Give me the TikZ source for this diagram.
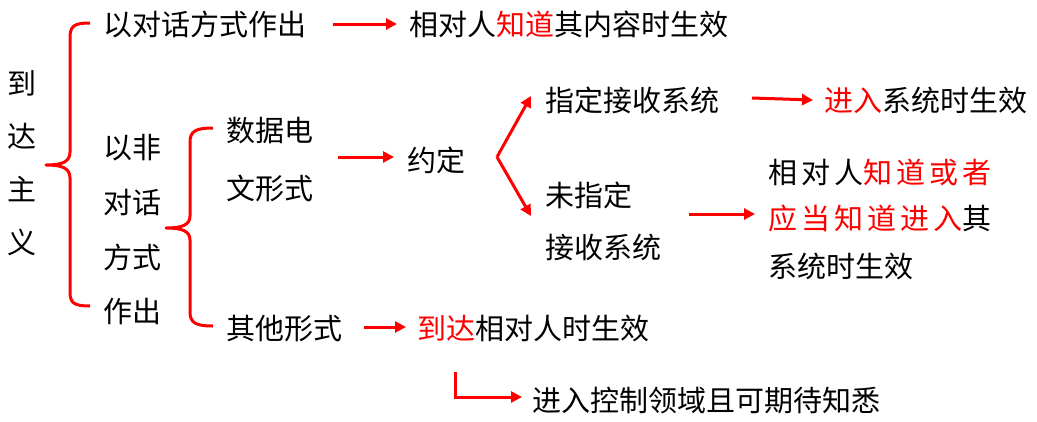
\documentclass[tikz,border=0pt]{standalone}
\usepackage{fontspec}
\setmainfont{Noto Sans CJK SC}
\usetikzlibrary{arrows.meta}
\definecolor{rd}{RGB}{255,0,0}
\begin{document}
\begin{tikzpicture}[x=1pt,y=-1pt,
  txt/.style={anchor=west,inner sep=0pt,font=\fontsize{29}{34}\selectfont,text=black},
  wide/.style={txt,font=\fontsize{29}{34}\selectfont\addfontfeatures{LetterSpace=14}},
  arr/.style={draw=rd,line width=3pt,-{Triangle[length=11pt,width=11pt]}},
  brace/.style={draw=rd,line width=3pt,line join=round}]
\useasboundingbox (0,0) rectangle (1037,421);
% left vertical title
\node[txt,anchor=center] (t1) at (22,83) {到};
\node[txt,anchor=center] (t2) at (22,136) {达};
\node[txt,anchor=center] (t3) at (22,189) {主};
\node[txt,anchor=center] (t4) at (22,242) {义};
% big brace
\coordinate (b1t) at (90,23);
\coordinate (b1b) at (90,306);
\coordinate (b1m) at (46,165);
\draw[brace] (b1t) .. controls (74,23) and (70,26) .. (70,38) -- (70,152)
  .. controls (70,162) and (62,165) .. (b1m)
  .. controls (62,165) and (70,168) .. (70,178) -- (70,292)
  .. controls (70,303) and (74,306) .. (b1b);
% first branch
\node[txt] (a1) at (103,24) {以对话方式作出};
\node[txt] (a2) at (409,24) {相对人\textcolor{rd}{知道}其内容时生效};
\coordinate (a1e) at (333,24);
\draw[arr] (a1e) -- (a2.west -| 397,0);
% second branch
\node[txt] (c1) at (103,148) {以非};
\node[txt] (c2) at (103,202) {对话};
\node[txt] (c3) at (103,257) {方式};
\node[txt] (c4) at (103,311) {作出};
% second brace
\coordinate (b2t) at (213,128);
\coordinate (b2b) at (213,326);
\coordinate (b2m) at (166,228);
\draw[brace] (b2t) .. controls (196,128) and (190,131) .. (190,142) -- (190,216)
  .. controls (190,225) and (182,228) .. (b2m)
  .. controls (182,228) and (190,231) .. (190,240) -- (190,312)
  .. controls (190,323) and (196,326) .. (b2b);
\node[txt] (d1) at (226,131) {数据电};
\node[txt] (d2) at (226,188) {文形式};
\node[txt] (e1) at (407,160) {约定};
\coordinate (d1e) at (338,157);
\draw[arr] (d1e) -- (394,157);
% branching from 约定
\coordinate (v) at (497,157);
\node[txt] (f1) at (545,100) {指定接收系统};
\node[txt] (g1) at (545,195) {未指定};
\node[txt] (g2) at (545,247) {接收系统};
\draw[arr] (v) -- (531,96);
\draw[arr] (v) -- (531,216);
% 指定 result
\node[txt] (f2) at (824,100) {\textcolor{rd}{进入}系统时生效};
\draw[arr] (752,98) -- (f2.west -| 813,0);
% 未指定 result
\node[wide] (h1) at (768,172) {相对人\textcolor{rd}{知道或者}};
\node[wide] (h2) at (768,218) {\textcolor{rd}{应当知道进入}其};
\node[txt] (h3) at (768,266) {系统时生效};
\draw[arr] (689,214) -- (755,214);
% 其他形式
\node[txt] (k1) at (226,329) {其他形式};
\node[txt] (k2) at (417,329) {\textcolor{rd}{到达}相对人时生效};
\draw[arr] (364,327) -- (406,327);
\node[txt] (m1) at (532,401) {进入控制领域且可期待知悉};
\coordinate (el) at (455,372);
\draw[arr,line join=miter] (el) -- (455,397) -- (522,397);
\end{tikzpicture}
\end{document}
